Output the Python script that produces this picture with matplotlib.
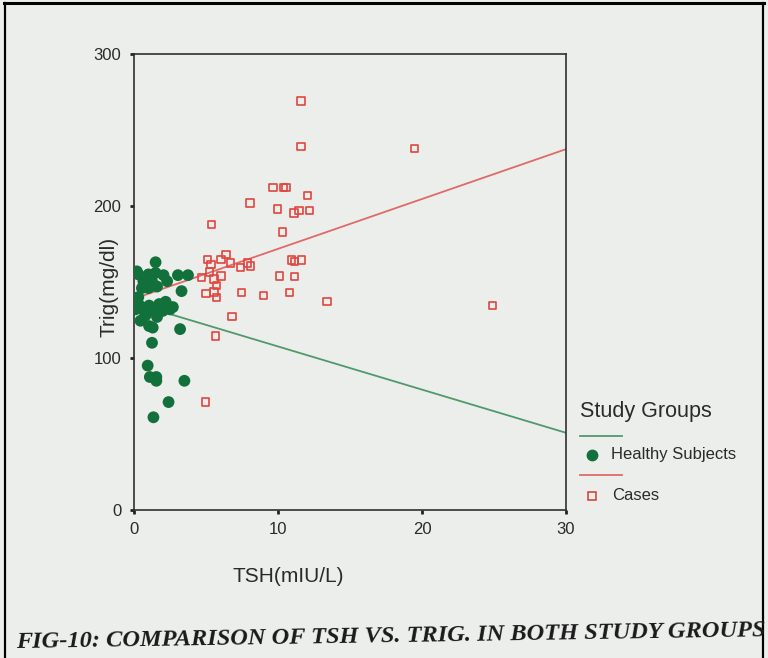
import matplotlib
matplotlib.use("Agg")
import matplotlib.pyplot as plt
from matplotlib.lines import Line2D
import numpy as np

# ---------------- data ----------------
cases_tsh = [11.6, 11.6, 9.65, 10.4, 10.55, 12.05, 8.05, 9.95, 11.45, 11.1, 12.2,
             5.4, 10.3, 5.1, 6.4, 6.05, 6.7, 5.35, 7.4, 7.9, 8.1, 5.25, 4.7, 5.55,
             6.05, 5.75, 5.0, 5.55, 5.75, 7.45, 9.0, 10.8, 10.1, 11.15, 10.95, 11.15,
             11.65, 13.4, 6.8, 5.65, 19.5, 24.9, 4.95]
cases_trig = [269, 239, 212, 212, 212, 207, 202, 198, 197, 195.5, 197,
              188, 183, 165, 168, 165, 162.5, 161.5, 159.5, 162.5, 160.5, 156.5, 153, 152,
              154, 147.5, 142.5, 143.5, 140, 143, 141, 143, 154, 153.5, 164.5, 163.5,
              164.5, 137, 127.5, 114.5, 238, 134.5, 71]

healthy_tsh = [1.5, 0.3, 1.0, 2.05, 3.05, 3.75, 0.65, 1.25, 2.3, 3.3, 0.55, 1.0,
               0.4, 1.05, 1.75, 2.7, 0.7, 1.3, 2.0, 2.5, 0.45, 1.05, 1.3, 3.2, 1.25,
               0.95, 1.1, 1.55, 1.55, 3.5, 2.4, 1.35,
               0.2, 1.6, 0.3, 0.8, 1.6, 2.2, 0.1, 1.5]
healthy_trig = [163, 155, 155, 154.5, 154.5, 154.5, 150.5, 150.5, 150.5, 144, 146, 146,
                134.5, 134.5, 135.5, 133.5, 131, 131, 131, 132, 124.5, 121, 120, 119, 110,
                95, 87.5, 87.5, 85, 85, 71, 61,
                157, 147, 140, 128, 127, 137, 132, 156]

# fitted lines (intercept, slope)
fit_cases = (139.0, 3.28)
fit_healthy = (136.0, -2.84)
fit_x = [0, 30]

x_ticks = [0, 10, 20, 30]
y_ticks = [0, 100, 200, 300]

# ---------------- style ----------------
BG = "#eceeec"
GREEN = "#12703a"
GREEN_LINE = "#4f9a6a"
RED = "#e0463e"
RED_LINE = "#e06a66"
TXT = "#2a2a2a"
FONT = "Liberation Sans"

W, H = 768, 658
fig = plt.figure(figsize=(W / 100, H / 100), dpi=100, facecolor=BG)

def fx(px):
    return px / W

def fy(py):
    return 1 - py / H

L, R, T, B = 134, 566, 54, 510
ax = fig.add_axes([fx(L), fy(B), fx(R) - fx(L), fy(T) - fy(B)])
ax.set_facecolor(BG)

ax.scatter(healthy_tsh, healthy_trig, s=72, color=GREEN, edgecolors="none", zorder=3)
ax.scatter(cases_tsh, cases_trig, s=28, marker="s", facecolors="none",
           edgecolors=RED, linewidths=1.2, zorder=3)

fx_arr = np.array(fit_x, dtype=float)
ax.plot(fx_arr, fit_cases[0] + fit_cases[1] * fx_arr, color=RED_LINE, lw=1.3, zorder=2)
ax.plot(fx_arr, fit_healthy[0] + fit_healthy[1] * fx_arr, color=GREEN_LINE, lw=1.3, zorder=2)

ax.set_xlim(0, 30)
ax.set_ylim(0, 300)
ax.set_xticks(x_ticks)
ax.set_yticks(y_ticks)
ax.set_xticklabels([str(v) for v in x_ticks], fontsize=12, family=FONT, color=TXT)
ax.set_yticklabels([str(v) for v in y_ticks], fontsize=12, family=FONT, color=TXT)
ax.tick_params(direction="out", length=3, width=2, color="#222222", pad=6)
for s in ax.spines.values():
    s.set_color("#303030")
    s.set_linewidth(1.2)

ax.set_xlabel("TSH(mIU/L)", fontsize=15, family=FONT, color=TXT)
ax.xaxis.set_label_coords(0.356, -0.125)
ax.set_ylabel("Trig(mg/dl)", fontsize=15, family=FONT, color=TXT)
ax.yaxis.set_label_coords(-0.035, 0.49)

# ---------------- legend (drawn manually) ----------------
fig.text(fx(580), fy(412), "Study Groups", fontsize=15.5, family=FONT, color=TXT,
         va="center", ha="left")
fig.add_artist(Line2D([fx(580), fx(622)], [fy(436), fy(436)], color=GREEN_LINE, lw=1.3))
fig.add_artist(Line2D([fx(592)], [fy(455)], marker="o", ms=8.5, color=GREEN, mec="none"))
fig.text(fx(611), fy(455), "Healthy Subjects", fontsize=12, family=FONT, color=TXT,
         va="center", ha="left")
fig.add_artist(Line2D([fx(580), fx(622)], [fy(475), fy(475)], color=RED_LINE, lw=1.3))
fig.add_artist(Line2D([fx(592)], [fy(496)], marker="s", ms=5.5, mfc="none", mec=RED, mew=1.2))
fig.text(fx(612), fy(496), "Cases", fontsize=12, family=FONT, color=TXT,
         va="center", ha="left")

# ---------------- caption ----------------
fig.text(fx(16), fy(648), "FIG-10: COMPARISON OF TSH VS. TRIG. IN BOTH STUDY GROUPS",
         fontsize=17.6, family="Liberation Serif", style="italic", weight="bold",
         color="#1a1a1a", va="baseline", ha="left", rotation=0.9,
         rotation_mode="anchor")

# ---------------- page frame ----------------
fig.add_artist(Line2D([fx(4), fx(764)], [fy(3), fy(3)], color="black", lw=2.2))
fig.add_artist(Line2D([fx(5), fx(5)], [fy(3), fy(658)], color="black", lw=1.6))
fig.add_artist(Line2D([fx(763), fx(763)], [fy(3), fy(658)], color="black", lw=1.6))

fig.savefig("out.png", dpi=100, facecolor=BG)
